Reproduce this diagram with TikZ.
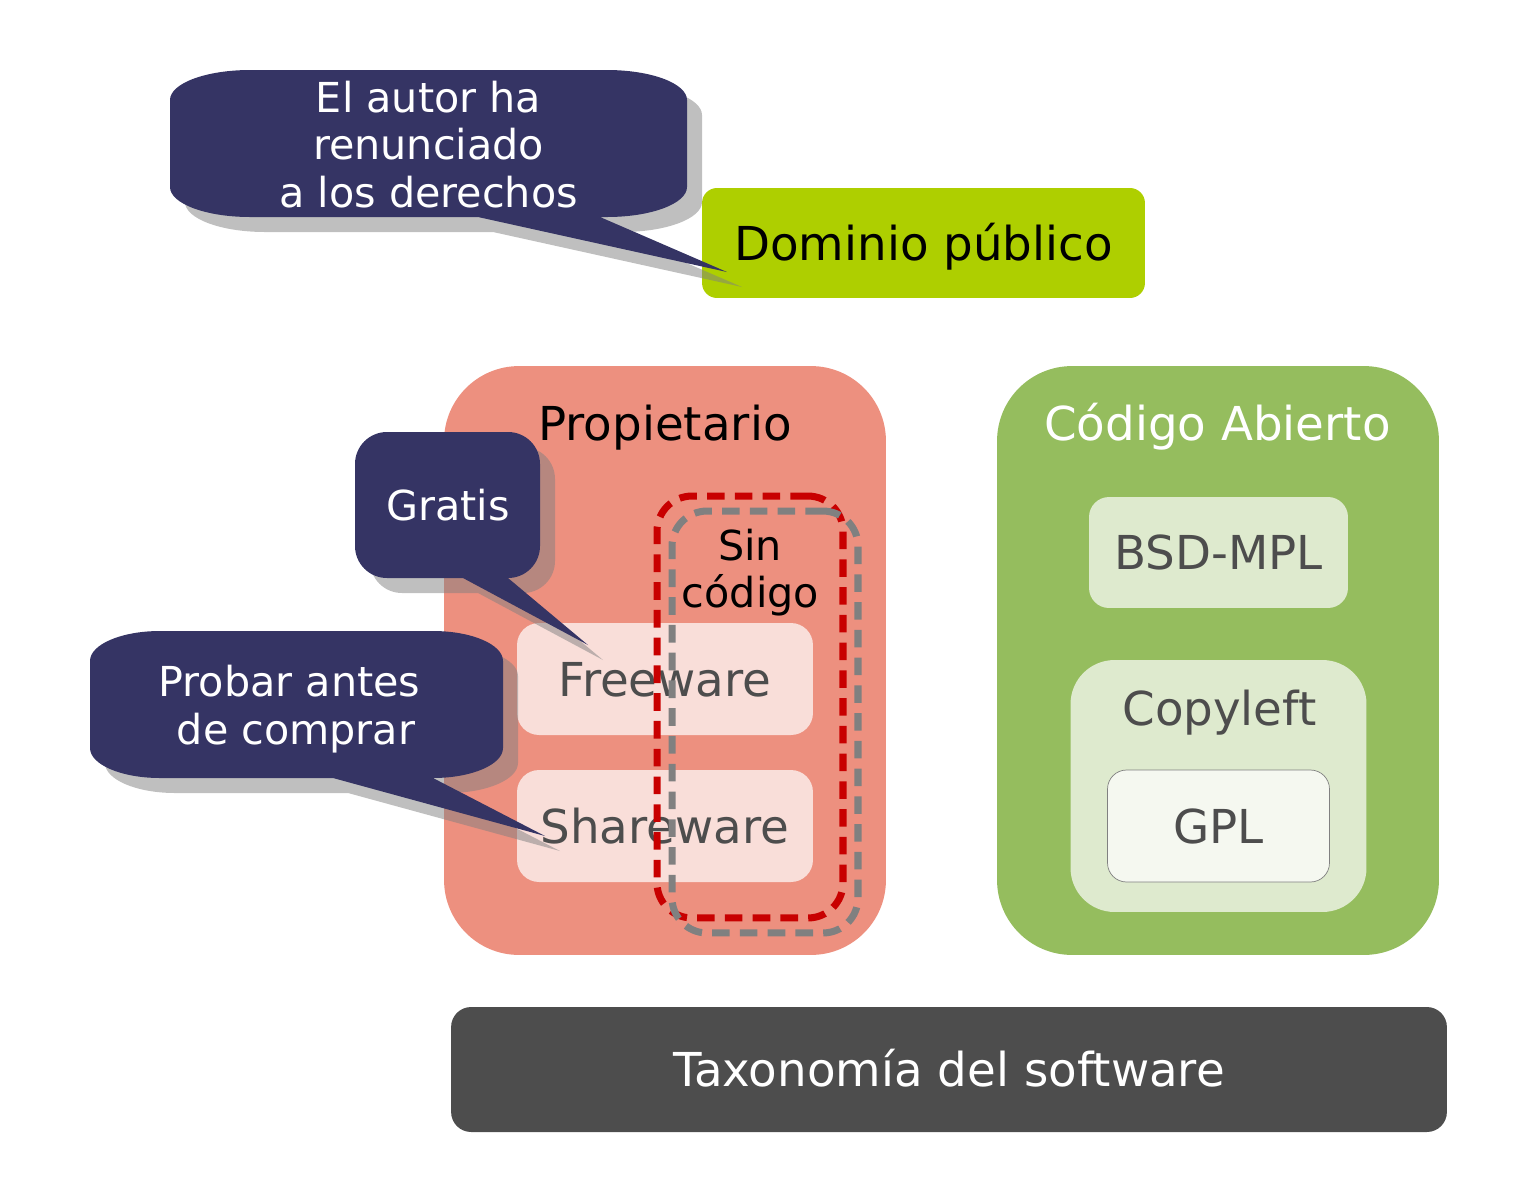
\documentclass[tikz,border=0pt]{standalone}
\usepackage{fontspec}
\setmainfont{DejaVu Sans}
\definecolor{salmon}{RGB}{237,144,127}
\definecolor{oagreen}{RGB}{149,189,94}
\definecolor{lime}{RGB}{174,207,0}
\definecolor{palegreen}{RGB}{222,234,206}
\definecolor{gplfill}{RGB}{245,248,240}
\definecolor{palepink}{RGB}{249,222,217}
\definecolor{darkgray}{RGB}{77,77,77}
\definecolor{navy}{RGB}{53,52,100}
\definecolor{dashred}{RGB}{200,0,0}
\definecolor{dashgray}{RGB}{128,128,128}
\newcommand\bigf{\fontsize{26.6pt}{30pt}\selectfont}
\newcommand\smallf{\fontsize{23.5pt}{27pt}\selectfont}
\def\calloutA{(170,100) .. controls (170,83.4) and (205.8,70) .. (250,70)
 -- (607,70) .. controls (651.2,70) and (687,83.4) .. (687,100)
 -- (687,187) .. controls (687,203.6) and (651.2,217) .. (607,217)
 -- (600,217) -- (727,272) -- (478,217) -- (250,217)
 .. controls (205.8,217) and (170,203.6) .. (170,187) -- cycle}
\def\calloutB{(90,661) .. controls (90,644.4) and (121.4,631) .. (160,631)
 -- (433,631) .. controls (471.6,631) and (503,644.4) .. (503,661)
 -- (503,748) .. controls (503,764.6) and (471.6,778) .. (433,778)
 -- (545,836) -- (333,778) -- (160,778)
 .. controls (121.4,778) and (90,764.6) .. (90,748) -- cycle}
\def\calloutC{(355,464) .. controls (355,446.3) and (369.3,432) .. (387,432)
 -- (508,432) .. controls (525.7,432) and (540,446.3) .. (540,464)
 -- (540,546) .. controls (540,563.7) and (525.7,578) .. (508,578)
 -- (588,645) -- (463,578) -- (387,578)
 .. controls (369.3,578) and (355,563.7) .. (355,546) -- cycle}
\begin{document}
\begin{tikzpicture}[x=0.02cm,y=-0.02cm,
  box/.style={rectangle, rounded corners=#1, inner sep=0pt, outer sep=0pt,
    text height=19.4pt, text depth=0pt, font=\bigf, align=center},
  bigtxt/.style={inner sep=0pt, font=\bigf, anchor=base},
  smalltxt/.style={inner sep=0pt, font=\smallf, anchor=base, text=white},
  dashbox/.style={rectangle, draw=#1, line width=4pt, dash pattern=on 10pt off 5.8pt,
    rounded corners=0.7cm, minimum width=3.72cm, minimum height=8.44cm, inner sep=0pt},
  shadowc/.style={fill=dashgray, fill opacity=0.5},
  callout/.style={fill=navy}]
\useasboundingbox (0,0) rectangle (1536,1201);
% main boxes
\node[box=1.5cm, fill=salmon, minimum width=8.84cm, minimum height=11.78cm] (prop) at (665,660.5) {};
\node[bigtxt] (propT) at (665,440) {Propietario};
\node[box=1.5cm, fill=oagreen, minimum width=8.84cm, minimum height=11.78cm] (oa) at (1218,660.5) {};
\node[bigtxt, text=white] (oaT) at (1217.5,440) {Código Abierto};
\node[box=0.3cm, fill=lime, minimum width=8.86cm, minimum height=2.2cm] (dom) at (923.5,243) {Dominio público};
\node[box=0.4cm, fill=darkgray, text=white, minimum width=19.92cm, minimum height=2.5cm] (tax) at (949,1069.5) {Taxonomía del software};
% open source inner
\node[box=0.4cm, fill=palegreen, text=darkgray, minimum width=5.18cm, minimum height=2.22cm] (bsd) at (1218.5,552.5) {BSD-MPL};
\node[box=0.88cm, fill=palegreen, minimum width=5.92cm, minimum height=5.04cm] (copy) at (1218.5,786) {};
\node[bigtxt, text=darkgray] (copyT) at (1219.5,725) {Copyleft};
\node[box=0.38cm, fill=gplfill, draw=dashgray, line width=0.4pt, text=darkgray, minimum width=4.44cm, minimum height=2.24cm] (gpl) at (1218.5,826) {GPL};
% proprietary inner
\node[box=0.44cm, fill=palepink, text=darkgray, minimum width=5.92cm, minimum height=2.24cm] (free) at (665,679) {Freeware};
\node[box=0.44cm, fill=palepink, text=darkgray, minimum width=5.92cm, minimum height=2.24cm] (share) at (665,826) {Shareware};
\node[smalltxt, text=black] (sin1) at (750,560) {Sin};
\node[smalltxt, text=black] (sin2) at (750.5,607) {código};
\node[dashbox=dashred] (nocode) at (750,707) {};
\node[dashbox=dashgray] (nocode2) at (765,722) {};
% callouts
\fill[shadowc, shift={(15,15)}] \calloutA;
\fill[callout] \calloutA;
\node[smalltxt] (a1) at (428.5,112) {El autor ha};
\node[smalltxt] (a2) at (428.5,159.5) {renunciado};
\node[smalltxt] (a3) at (428.5,207) {a los derechos};
\fill[shadowc, shift={(15,15)}] \calloutC;
\fill[callout] \calloutC;
\node[smalltxt] (g1) at (448,520) {Gratis};
\fill[shadowc, shift={(15,15)}] \calloutB;
\fill[callout] \calloutB;
\node[smalltxt] (p1) at (289.5,696) {Probar antes};
\node[smalltxt] (p2) at (296,744) {de comprar};
\end{tikzpicture}
\end{document}
